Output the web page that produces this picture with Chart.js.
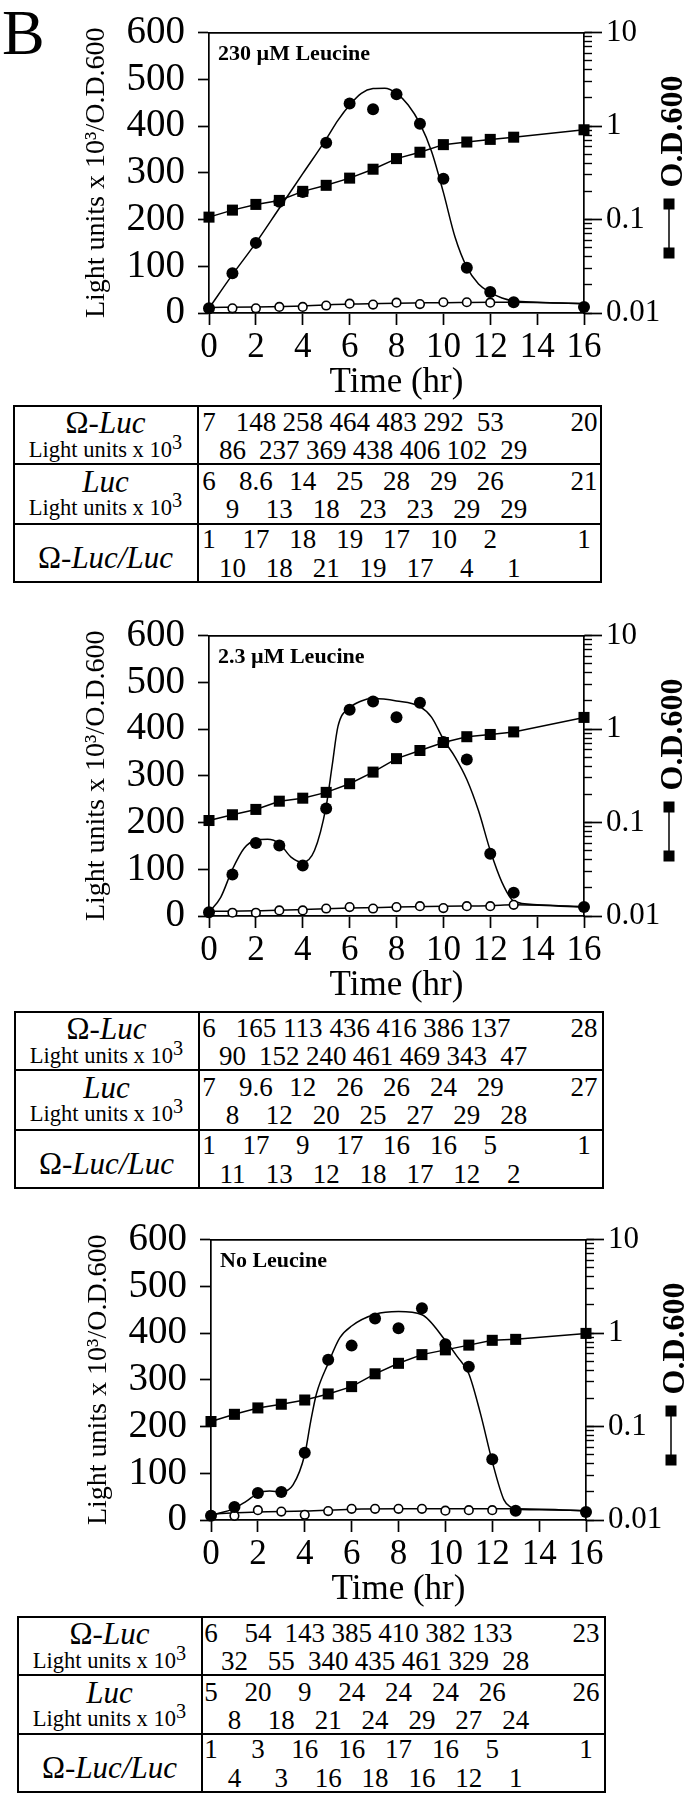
<!DOCTYPE html>
<html>
<head>
<meta charset="utf-8">
<title>Luciferase time course</title>
<script src="https://cdn.jsdelivr.net/npm/chart.js@4.4.0/dist/chart.umd.min.js"></script>
<style>
html, body { margin: 0; padding: 0; background: #fff; }
#page { position: relative; width: 689px; height: 1800px; overflow: hidden;
        font-family: "Liberation Serif", "Times New Roman", serif; color: #000; }
#letter { position: absolute; left: 2px; top: 1px; font-size: 64px; line-height: 64px; }
canvas { position: absolute; }
.tbl { position: absolute; }
.rule { position: absolute; background: #000; }
.lbl { position: absolute; left: 0; text-align: center; white-space: nowrap; }
.big { font-size: 31px; line-height: 32px; }
.small { font-size: 22.5px; line-height: 24px; }
.num { position: absolute; font-size: 27px; line-height: 28px; white-space: nowrap; transform: translateX(-50%); }
.sup { font-size: 0.9em; position: relative; top: -0.4em; }
</style>
</head>
<body>
<div id="page"><div id="letter">B</div></div>
<script>
// hours at which the plotted symbols sit
const pointHours = [0, 1, 2, 3, 4, 5, 6, 7, 8, 9, 10, 11, 12, 13, 16];
const lucFitHours = [0, 2, 4, 6, 8, 10, 12, 13, 16];

// 230 uM leucine
const leu230Omega = [10, 85, 150, 238, 259, 364, 448, 436, 468, 405, 287, 97, 45, 23, 13];
const leu230LucHours = [0, 1, 2, 3, 4, 5, 6, 7, 8, 9, 10, 11, 12];
const leu230Luc = [9, 10, 10, 13, 13, 16, 20, 18, 22, 19, 23, 23, 22];
const leu230Od = [0.106, 0.126, 0.145, 0.16, 0.2, 0.232, 0.277, 0.345, 0.448, 0.524, 0.632, 0.674, 0.719, 0.759, 0.911];
const leu230FitHours = [0, 1, 2, 3, 4, 5, 5.5, 6, 6.5, 7, 7.5, 8, 8.5, 9, 9.5, 10, 10.5, 11, 11.5, 12, 12.5, 13, 14, 16];
const leu230FitOmega = [10, 82, 150, 224, 298, 372, 412, 445, 470, 480, 481, 470, 445, 405, 345, 258, 162, 98, 62, 44, 32, 26, 23, 20];
const leu230LucFit = [12, 13, 15, 19, 21, 22, 23, 23, 20];

// 2.3 uM leucine
const leu2Omega = [8, 89, 156, 151, 108, 230, 441, 459, 425, 456, 372, 335, 133, 50, 19];
const leu2LucHours = [0, 1, 2, 3, 4, 5, 6, 7, 8, 9, 10, 11, 12, 13];
const leu2Luc = [8, 7, 7, 12, 12, 16, 19, 16, 19, 21, 17, 21, 21, 24];
const leu2Od = [0.105, 0.121, 0.138, 0.169, 0.182, 0.21, 0.26, 0.346, 0.482, 0.589, 0.717, 0.827, 0.874, 0.931, 1.33];
const leu2FitHours = [0, 0.5, 1, 1.5, 2, 2.5, 3, 3.5, 4, 4.5, 5, 5.25, 5.5, 6, 6.5, 7, 8, 9, 9.5, 10, 10.5, 11, 11.5, 12, 12.5, 13, 14, 16];
const leu2FitOmega = [8, 40, 100, 145, 162, 164, 155, 126, 115, 140, 235, 320, 405, 445, 460, 465, 460, 448, 425, 378, 340, 292, 225, 140, 72, 32, 24, 20];
const leu2LucFit = [10, 11, 14, 17, 19, 21, 22, 24, 19];

// no leucine
const leu0Omega = [9, 28, 58, 60, 144, 343, 373, 431, 410, 453, 376, 328, 130, 20, 17];
const leu0LucHours = [0, 1, 2, 3, 4, 5, 6, 7, 8, 9, 10, 11, 12];
const leu0Luc = [10, 9, 21, 18, 11, 19, 24, 24, 24, 24, 20, 21, 21];
const leu0Od = [0.113, 0.135, 0.158, 0.173, 0.192, 0.223, 0.267, 0.366, 0.474, 0.587, 0.66, 0.742, 0.835, 0.855, 0.99];
const leu0FitHours = [0, 1, 1.5, 2, 2.5, 3, 3.5, 4, 4.25, 4.5, 5, 5.5, 6, 7, 8, 9, 10, 10.5, 11, 11.5, 12, 12.5, 12.8, 13, 14, 16];
const leu0FitOmega = [10, 25, 40, 57, 62, 60, 75, 140, 210, 270, 335, 390, 415, 440, 446, 439, 384, 350, 313, 227, 125, 43, 27, 23, 22, 20];
const leu0LucFit = [13, 17, 19, 23, 24, 24, 24, 24, 20];

// right axis ticks
const odMajorTicks = [0.01, 0.1, 1, 10];
const odTickLabels = ['0.01', '0.1', '1', '10'];
const odMinorTicks = [];
[0.01, 0.1, 1].forEach(function (d) {
    for (let k = 1; k <= 9; k++) odMinorTicks.push(+(k * d).toPrecision(3));
});
odMinorTicks.push(10);

// tables under each graph: top line = even hours, bottom line = odd hours
const tableHoursTop = [0, 2, 4, 6, 8, 10, 12, 16];
const tableHoursBottom = [1, 3, 5, 7, 9, 11, 13];

const leu230TblOmegaTop = ['7', '148', '258', '464', '483', '292', '53', '20'];
const leu230TblOmegaBottom = ['86', '237', '369', '438', '406', '102', '29'];
const leu230TblLucTop = ['6', '8.6', '14', '25', '28', '29', '26', '21'];
const leu230TblLucBottom = ['9', '13', '18', '23', '23', '29', '29'];
const leu230TblRatioTop = ['1', '17', '18', '19', '17', '10', '2', '1'];
const leu230TblRatioBottom = ['10', '18', '21', '19', '17', '4', '1'];

const leu2TblOmegaTop = ['6', '165', '113', '436', '416', '386', '137', '28'];
const leu2TblOmegaBottom = ['90', '152', '240', '461', '469', '343', '47'];
const leu2TblLucTop = ['7', '9.6', '12', '26', '26', '24', '29', '27'];
const leu2TblLucBottom = ['8', '12', '20', '25', '27', '29', '28'];
const leu2TblRatioTop = ['1', '17', '9', '17', '16', '16', '5', '1'];
const leu2TblRatioBottom = ['11', '13', '12', '18', '17', '12', '2'];

const leu0TblOmegaTop = ['6', '54', '143', '385', '410', '382', '133', '23'];
const leu0TblOmegaBottom = ['32', '55', '340', '435', '461', '329', '28'];
const leu0TblLucTop = ['5', '20', '9', '24', '24', '24', '26', '26'];
const leu0TblLucBottom = ['8', '18', '21', '24', '29', '27', '24'];
const leu0TblRatioTop = ['1', '3', '16', '16', '17', '16', '5', '1'];
const leu0TblRatioBottom = ['4', '3', '16', '18', '16', '12', '1'];

const SERIF = '"Liberation Serif", "Times New Roman", serif';
Chart.defaults.font.family = SERIF;
Chart.defaults.color = '#000';

const panels = [
    {
        name: '230 \u00b5M Leucine', top: 0, left: 0,
        omega: leu230Omega, lucHours: leu230LucHours, luc: leu230Luc, od: leu230Od,
        fitHours: leu230FitHours, fitOmega: leu230FitOmega, lucFit: leu230LucFit,
        table: { left: 13, top: 405, width: 589, height: 178, col: 198 },
        rows: [leu230TblOmegaTop, leu230TblOmegaBottom, leu230TblLucTop, leu230TblLucBottom, leu230TblRatioTop, leu230TblRatioBottom]
    },
    {
        name: '2.3 \u00b5M Leucine', top: 603, left: 0,
        omega: leu2Omega, lucHours: leu2LucHours, luc: leu2Luc, od: leu2Od,
        fitHours: leu2FitHours, fitOmega: leu2FitOmega, lucFit: leu2LucFit,
        table: { left: 14, top: 1011, width: 590, height: 178, col: 199 },
        rows: [leu2TblOmegaTop, leu2TblOmegaBottom, leu2TblLucTop, leu2TblLucBottom, leu2TblRatioTop, leu2TblRatioBottom]
    },
    {
        name: 'No Leucine', top: 1207, left: 2,
        omega: leu0Omega, lucHours: leu0LucHours, luc: leu0Luc, od: leu0Od,
        fitHours: leu0FitHours, fitOmega: leu0FitOmega, lucFit: leu0LucFit,
        table: { left: 17, top: 1616, width: 589, height: 177, col: 202 },
        rows: [leu0TblOmegaTop, leu0TblOmegaBottom, leu0TblLucTop, leu0TblLucBottom, leu0TblRatioTop, leu0TblRatioBottom]
    }
];

const pts = (xs, ys) => xs.map((x, i) => ({ x: x, y: ys[i] }));

// panel caption, rotated right-axis title and its square-line-square key
const panelText = {
    id: 'panelText',
    afterDraw(chart, args, opts) {
        const ctx = chart.ctx, area = chart.chartArea;
        ctx.save();
        ctx.fillStyle = '#000';
        ctx.textBaseline = 'middle';
        ctx.font = 'bold 22px ' + SERIF;
        ctx.fillText(opts.label, area.left + 9, area.top + 22);

        const kx = area.right + 85;
        ctx.strokeStyle = '#000';
        ctx.lineWidth = 1.5;
        ctx.beginPath();
        ctx.moveTo(kx, area.top + 172);
        ctx.lineTo(kx, area.top + 221);
        ctx.stroke();
        ctx.fillRect(kx - 5.5, area.top + 166, 11, 11);
        ctx.fillRect(kx - 5.5, area.top + 215, 11, 11);

        ctx.translate(area.right + 90, area.top + 99);
        ctx.rotate(-Math.PI / 2);
        ctx.textAlign = 'center';
        ctx.font = 'bold 32px ' + SERIF;
        ctx.fillText('O.D.600', 0, 0);
        ctx.restore();
    }
};

function makeChart(canvas, p) {
    const axisLine = { color: '#000', width: 1.7 };
    return new Chart(canvas, {
        type: 'line',
        data: {
            datasets: [
                {
                    label: 'O.D.600', data: pts(pointHours, p.od), yAxisID: 'yOd',
                    borderColor: '#000', borderWidth: 1.5, tension: 0,
                    pointStyle: 'rect', pointRadius: 7.8, pointBorderWidth: 0,
                    pointBackgroundColor: '#000', clip: false
                },
                {
                    label: '\u03a9-Luc', data: pts(pointHours, p.omega), yAxisID: 'y', showLine: false,
                    pointRadius: 6, pointBorderWidth: 0, pointBackgroundColor: '#000', clip: false
                },
                {
                    label: 'Luc', data: pts(p.lucHours, p.luc), yAxisID: 'y', showLine: false,
                    pointRadius: 4.3, pointBorderWidth: 1.6, pointBorderColor: '#000',
                    pointBackgroundColor: '#fff', clip: false
                },
                {
                    label: '\u03a9-Luc curve', data: pts(p.fitHours, p.fitOmega), yAxisID: 'y',
                    borderColor: '#000', borderWidth: 1.5, pointRadius: 0,
                    cubicInterpolationMode: 'monotone', clip: false
                },
                {
                    label: 'Luc curve', data: pts(lucFitHours, p.lucFit), yAxisID: 'y',
                    borderColor: '#000', borderWidth: 1.5, pointRadius: 0,
                    cubicInterpolationMode: 'monotone', clip: false
                }
            ]
        },
        options: {
            responsive: false,
            animation: false,
            devicePixelRatio: 1,
            layout: { padding: { top: 21, left: 0, right: 0, bottom: 0 } },
            plugins: {
                legend: { display: false },
                tooltip: { enabled: false },
                panelText: { label: p.name }
            },
            scales: {
                x: {
                    type: 'linear', position: 'bottom', min: 0, max: 16,
                    ticks: { stepSize: 2, autoSkip: false, maxRotation: 0, padding: 5,
                             font: { size: 35, lineHeight: 1 } },
                    grid: { drawOnChartArea: false, tickLength: 12, tickColor: '#000', tickWidth: 1.7 },
                    border: axisLine,
                    title: { display: true, text: 'Time (hr)', padding: 0, font: { size: 35, lineHeight: 1 } },
                    afterFit: function (s) { s.height = 87; }
                },
                xTop: {
                    type: 'linear', position: 'top', min: 0, max: 16, display: true,
                    ticks: { display: false },
                    grid: { display: false, drawTicks: false },
                    border: axisLine,
                    afterFit: function (s) { s.height = 0; }
                },
                y: {
                    type: 'linear', position: 'left', min: 0, max: 600,
                    ticks: { stepSize: 100, autoSkip: false, padding: 13, font: { size: 39, lineHeight: 1 } },
                    grid: { drawOnChartArea: false, tickLength: 11, tickColor: '#000', tickWidth: 1.7 },
                    border: axisLine,
                    title: { display: true, text: 'Light units x 10\u00b3/O.D.600',
                             padding: { top: 83, bottom: 0 }, font: { size: 28, lineHeight: 1 } },
                    afterFit: function (s) { s.width = 209; }
                },
                yMinor: {
                    type: 'logarithmic', position: 'right', weight: 0, min: 0.01, max: 10, display: true,
                    ticks: { display: false, autoSkip: false },
                    grid: { drawOnChartArea: false, tickLength: 8, tickColor: '#000', tickWidth: 1.4 },
                    border: { display: false },
                    afterBuildTicks: function (s) { s.ticks = odMinorTicks.map(v => ({ value: v })); },
                    afterFit: function (s) { s.width = 0; }
                },
                yOd: {
                    type: 'logarithmic', position: 'right', weight: 1, min: 0.01, max: 10,
                    ticks: { autoSkip: false, padding: 4, font: { size: 31, lineHeight: 1 },
                             callback: function (v, i) { return odTickLabels[i]; } },
                    grid: { drawOnChartArea: false, tickLength: 18, tickColor: '#000', tickWidth: 1.7 },
                    border: axisLine,
                    afterBuildTicks: function (s) { s.ticks = odMajorTicks.map(v => ({ value: v })); },
                    afterFit: function (s) { s.width = 105; }
                }
            }
        },
        plugins: [panelText]
    });
}

function addLabel(box, html, cls, width, top) {
    const d = document.createElement('div');
    d.className = 'lbl ' + cls;
    d.style.width = width + 'px';
    d.style.top = top + 'px';
    d.innerHTML = html;
    box.appendChild(d);
}

function addNum(box, text, x, top) {
    const s = document.createElement('span');
    s.className = 'num';
    s.style.left = x + 'px';
    s.style.top = top + 'px';
    s.textContent = text;
    box.appendChild(s);
}

function buildTable(page, spec, rows, xOf) {
    const box = document.createElement('div');
    box.className = 'tbl';
    box.style.cssText = 'left:' + spec.left + 'px;top:' + spec.top + 'px;width:' + spec.width + 'px;height:' + spec.height + 'px';
    const rowH = spec.height / 3;
    const colX = spec.col - spec.left;
    const rule = function (x, y, w, h) {
        const d = document.createElement('div');
        d.className = 'rule';
        d.style.cssText = 'left:' + x + 'px;top:' + y + 'px;width:' + w + 'px;height:' + h + 'px';
        box.appendChild(d);
    };
    rule(0, 0, spec.width, 2);
    rule(0, spec.height - 2, spec.width, 2);
    rule(0, 0, 2, spec.height);
    rule(spec.width - 2, 0, 2, spec.height);
    rule(0, Math.round(rowH) - 1, spec.width, 2);
    rule(0, Math.round(2 * rowH) - 1, spec.width, 2);
    rule(colX - 1, 0, 2, spec.height);

    const sub = 'Light units x 10<span class="sup">3</span>';
    addLabel(box, '\u03a9-<i>Luc</i>', 'big', colX, 2);
    addLabel(box, sub, 'small', colX, 33);
    addLabel(box, '<i>Luc</i>', 'big', colX, rowH + 2);
    addLabel(box, sub, 'small', colX, rowH + 32);
    addLabel(box, '\u03a9-<i>Luc/Luc</i>', 'big', colX, 2 * rowH + 18);

    for (let r = 0; r < 3; r++) {
        const y0 = r * rowH;
        const topLine = rows[2 * r], bottomLine = rows[2 * r + 1];
        const lift = r === 2 ? 2 : 0;
        topLine.forEach(function (v, k) {
            addNum(box, v, xOf(tableHoursTop[k]) - spec.left, y0 + 3 - lift);
        });
        bottomLine.forEach(function (v, k) {
            addNum(box, v, xOf(tableHoursBottom[k]) - spec.left, y0 + 31 - lift / 2);
        });
    }
    page.appendChild(box);
}

const page = document.getElementById('page');
panels.forEach(function (p) {
    const canvas = document.createElement('canvas');
    canvas.width = 689;
    canvas.height = 400;
    canvas.style.left = p.left + 'px';
    canvas.style.top = p.top + 'px';
    canvas.style.width = '689px';
    canvas.style.height = '400px';
    page.appendChild(canvas);
    const chart = makeChart(canvas, p);
    const xOf = t => p.left + chart.scales.x.getPixelForValue(t);
    buildTable(page, p.table, p.rows, xOf);
});
</script>
</body>
</html>
